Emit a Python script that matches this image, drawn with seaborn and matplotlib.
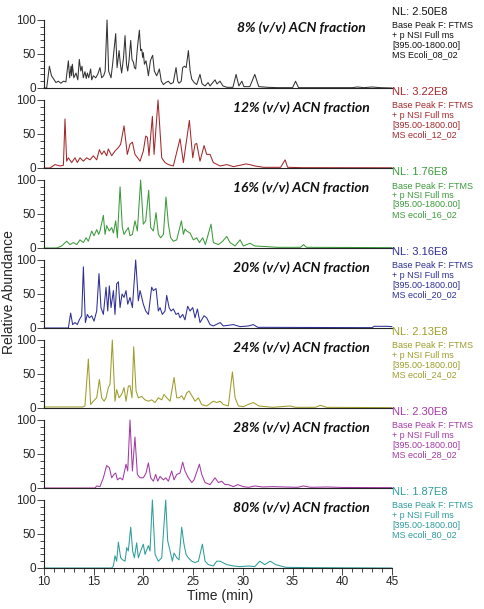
import matplotlib
matplotlib.use("Agg")
import matplotlib.pyplot as plt
import pandas as pd
import seaborn as sns
from matplotlib.ticker import MultipleLocator

# Fractions, normalisation levels and raw file names
fractions = ["8%", "12%", "16%", "20%", "24%", "28%", "80%"]
nl_values = ["2.50E8", "3.22E8", "1.76E8", "3.16E8", "2.13E8", "2.30E8", "1.87E8"]
file_names = ["MS Ecoli_08_02", "MS ecoli_12_02", "MS ecoli_16_02", "MS ecoli_20_02",
              "MS ecoli_24_02", "MS ecoli_28_02", "MS ecoli_80_02"]
colors = ["#333333", "#a3282b", "#3c9a3c", "#2e2e96", "#9d9d2c", "#a43aa4", "#2f9c9c"]

# Chromatogram points (time in min, relative abundance %)
trace_08 = [(10.0, 0), (10.27, 0), (10.54, 32), (10.75, 18), (10.94, 14), (11.2, 8), (11.44, 10),
            (11.7, 7), (11.95, 10), (12.2, 9), (12.45, 40), (12.58, 15), (12.72, 32), (12.78, 18),
            (12.85, 35), (13.0, 15), (13.22, 22), (13.4, 12), (13.55, 42), (13.7, 25), (13.82, 32),
            (13.95, 15), (14.12, 24), (14.25, 14), (14.36, 22), (14.5, 15), (14.69, 28), (14.8, 12),
            (14.96, 18), (15.2, 15), (15.4, 20), (15.63, 30), (15.8, 15), (16.0, 18), (16.15, 25),
            (16.34, 100), (16.5, 25), (16.74, 15), (16.9, 35), (17.21, 80), (17.35, 30), (17.55, 55),
            (17.68, 35), (17.81, 22), (18.0, 45), (18.15, 77), (18.3, 35), (18.42, 25), (18.55, 40),
            (18.72, 70), (18.85, 42), (18.99, 38), (19.1, 30), (19.22, 28), (19.4, 60), (19.59, 85),
            (19.72, 55), (19.83, 57), (19.92, 45), (19.99, 52), (20.1, 35), (20.26, 40), (20.4, 28),
            (20.5, 18), (20.7, 40), (20.83, 45), (20.93, 48), (21.1, 25), (21.33, 18), (21.45, 22),
            (21.6, 28), (21.8, 10), (22.01, 5), (22.25, 8), (22.5, 10), (22.75, 6), (23.0, 8),
            (23.28, 30), (23.45, 10), (23.58, 7), (23.8, 10), (23.95, 30), (24.12, 32), (24.3, 30),
            (24.52, 55), (24.7, 25), (24.86, 13), (25.1, 8), (25.36, 5), (25.69, 20), (25.9, 6),
            (26.2, 3), (26.5, 8), (26.7, 3), (27.2, 12), (27.4, 6), (27.7, 10), (28.0, 3), (28.4, 1),
            (29.0, 1), (29.32, 20), (29.6, 3), (29.9, 10), (30.1, 2), (30.7, 2), (31.2, 20), (31.6, 2),
            (32.5, 1), (33.5, 0.5), (35.0, 0.5), (35.3, 10), (35.6, 0.5), (41.0, 0.5), (41.5, 1.5),
            (42.2, 0.5), (43.0, 1.5), (43.8, 0.5), (45.0, 0)]

trace_12 = [(10.0, 0), (10.6, 0), (11.11, 5), (11.61, 3), (11.95, 4), (12.11, 72), (12.28, 10),
            (12.45, 15), (12.78, 8), (13.12, 15), (13.35, 8), (13.62, 15), (13.96, 10), (14.29, 15),
            (14.63, 12), (14.96, 18), (15.3, 12), (15.57, 27), (15.8, 20), (16.04, 25), (16.3, 18),
            (16.47, 28), (16.81, 18), (17.14, 25), (17.48, 30), (17.71, 35), (18.05, 62), (18.38, 20),
            (18.65, 35), (18.89, 38), (19.15, 20), (19.42, 15), (19.66, 10), (19.99, 25), (20.23, 47),
            (20.4, 45), (20.56, 18), (20.9, 76), (21.07, 20), (21.47, 100), (21.84, 15), (22.17, 8),
            (22.51, 5), (23.01, 3), (23.68, 43), (24.02, 8), (24.62, 70), (24.96, 15), (25.19, 35),
            (25.36, 36), (25.69, 10), (26.1, 33), (26.36, 20), (26.7, 20), (27.03, 8), (27.71, 3),
            (28.38, 5), (29.05, 2), (29.72, 4), (30.3, 6), (30.7, 5), (31.2, 3), (32.1, 1),
            (33.8, 1), (34.25, 12), (34.5, 1), (36.0, 0.5), (45.0, 0.3)]

trace_16 = [(10.0, 0), (11.27, 0), (11.78, 3), (12.28, 10), (12.62, 5), (12.95, 8), (13.29, 5),
            (13.62, 12), (13.96, 8), (14.23, 15), (14.46, 10), (14.8, 25), (15.03, 18), (15.3, 27),
            (15.5, 20), (15.63, 25), (15.97, 48), (16.14, 20), (16.3, 33), (16.57, 25), (16.81, 30),
            (16.98, 22), (17.21, 40), (17.38, 15), (17.65, 90), (17.88, 30), (18.05, 20), (18.25, 25),
            (18.48, 30), (18.65, 18), (18.89, 20), (19.15, 40), (19.39, 25), (19.72, 100), (19.99, 35),
            (20.23, 40), (20.53, 85), (20.73, 30), (21.0, 25), (21.27, 52), (21.5, 20), (21.74, 15),
            (22.01, 20), (22.27, 75), (22.51, 35), (22.74, 15), (23.01, 10), (23.35, 12), (23.82, 40),
            (24.02, 20), (24.18, 28), (24.35, 25), (24.69, 22), (25.02, 12), (25.36, 15), (25.63, 8),
            (25.96, 15), (26.23, 5), (26.8, 35), (27.03, 8), (27.54, 5), (27.97, 10), (28.38, 17),
            (28.71, 8), (29.22, 3), (29.72, 12), (30.05, 3), (30.4, 5), (30.7, 7), (31.2, 3),
            (32.4, 2), (33.5, 1), (35.8, 1), (36.1, 5), (36.4, 1), (45.0, 0.5)]

trace_20 = [(10.0, 0), (12.45, 0), (12.68, 22), (12.88, 5), (13.12, 8), (13.35, 5), (13.55, 12),
            (13.79, 18), (13.96, 90), (14.16, 8), (14.36, 20), (14.56, 15), (14.8, 18), (15.03, 10),
            (15.3, 25), (15.53, 80), (15.73, 30), (15.97, 20), (16.24, 60), (16.41, 25), (16.57, 62),
            (16.74, 30), (16.98, 55), (17.14, 20), (17.31, 65), (17.48, 68), (17.65, 30), (17.85, 50),
            (18.05, 45), (18.25, 55), (18.42, 35), (18.65, 45), (18.89, 30), (19.22, 100), (19.49, 40),
            (19.66, 55), (19.83, 45), (19.99, 35), (20.23, 25), (20.5, 20), (20.83, 60), (21.0, 55),
            (21.27, 58), (21.5, 25), (21.67, 30), (21.9, 20), (22.17, 25), (22.34, 48), (22.58, 30),
            (22.78, 25), (23.01, 28), (23.28, 20), (23.51, 22), (23.68, 15), (23.95, 20), (24.18, 12),
            (24.45, 32), (24.69, 25), (24.96, 30), (25.19, 15), (25.43, 28), (25.69, 8), (26.1, 18),
            (26.36, 15), (26.7, 5), (27.03, 3), (27.71, 8), (28.04, 3), (29.05, 5), (29.72, 2),
            (30.56, 3), (31.05, 5), (31.5, 1), (43.0, 0.5), (43.2, 2.5), (44.5, 2.5), (45.0, 2)]

trace_24 = [(10.0, 1.5), (13.9, 1.5), (14.12, 3), (14.46, 72), (14.69, 5), (14.96, 10), (15.3, 15),
            (15.57, 42), (15.8, 15), (16.04, 10), (16.24, 15), (16.47, 30), (16.64, 35), (16.87, 100),
            (17.14, 10), (17.31, 27), (17.55, 15), (17.81, 20), (18.05, 30), (18.25, 10), (18.48, 32),
            (18.65, 33), (18.85, 15), (19.02, 90), (19.26, 25), (19.49, 15), (19.83, 17), (20.16, 12),
            (20.5, 10), (20.83, 12), (21.17, 8), (21.5, 15), (21.84, 12), (22.07, 20), (22.34, 15),
            (22.68, 10), (23.08, 45), (23.35, 15), (23.58, 15), (23.85, 18), (24.08, 12), (24.35, 22),
            (24.59, 25), (24.79, 20), (25.19, 10), (25.53, 15), (25.86, 5), (26.36, 3), (27.03, 10),
            (27.37, 8), (27.71, 10), (28.04, 5), (28.54, 3), (28.95, 53), (29.22, 15), (29.55, 3),
            (30.05, 2), (30.5, 5), (31.06, 8), (31.6, 3), (33.0, 1), (34.75, 3), (35.3, 1),
            (37.3, 1), (37.8, 4), (38.4, 1), (45.0, 0.5)]

trace_28 = [(10.0, 0), (15.13, 0), (15.3, 3), (15.63, 2), (15.97, 15), (16.3, 33), (16.57, 30),
            (16.81, 15), (17.04, 20), (17.21, 22), (17.38, 12), (17.65, 15), (17.91, 12), (18.25, 35),
            (18.42, 25), (18.65, 100), (18.89, 25), (19.15, 75), (19.39, 20), (19.66, 15), (19.99, 15),
            (20.26, 22), (20.5, 37), (20.73, 15), (21.0, 10), (21.23, 20), (21.44, 10), (21.67, 17),
            (22.01, 12), (22.24, 15), (22.51, 10), (22.84, 25), (23.08, 12), (23.35, 20), (23.68, 22),
            (23.95, 38), (24.18, 25), (24.52, 15), (24.86, 8), (25.09, 12), (25.63, 35), (25.86, 20),
            (26.2, 8), (26.7, 5), (27.2, 15), (27.54, 8), (27.87, 10), (28.21, 5), (28.54, 5),
            (29.05, 2), (29.48, 5), (30.05, 2), (30.56, 1), (31.2, 3), (32.0, 1.5), (33.0, 2),
            (35.5, 1), (36.1, 3), (36.8, 1), (38.5, 1.5), (40.0, 0.8), (45.0, 0.5)]

trace_80 = [(10.0, 0), (16.81, 0), (16.98, 3), (17.14, 18), (17.31, 10), (17.48, 38), (17.71, 15),
            (17.91, 12), (18.15, 10), (18.32, 30), (18.48, 25), (18.72, 60), (18.92, 25), (19.09, 15),
            (19.32, 37), (19.49, 15), (19.72, 25), (19.99, 35), (20.16, 20), (20.5, 33), (20.66, 25),
            (20.9, 100), (21.17, 20), (21.5, 10), (21.84, 15), (22.24, 100), (22.44, 40), (22.68, 25),
            (22.91, 10), (23.08, 22), (23.35, 15), (23.58, 12), (23.85, 60), (24.08, 35), (24.29, 20),
            (24.52, 15), (24.86, 10), (25.19, 8), (25.53, 10), (25.93, 35), (26.2, 10), (26.53, 5),
            (27.03, 3), (27.37, 10), (27.71, 10), (27.97, 8), (28.38, 5), (29.05, 3), (29.72, 2),
            (30.56, 3), (31.2, 2), (31.7, 10), (32.2, 5), (32.75, 10), (33.3, 5), (33.8, 3),
            (34.3, 1), (37.0, 0.5), (45.0, 0)]

traces = [trace_08, trace_12, trace_16, trace_20, trace_24, trace_28, trace_80]

sns.set_style("ticks")
plt.rcParams["font.family"] = ["Liberation Sans", "DejaVu Sans"]

W, H = 485, 609
fig = plt.figure(figsize=(W / 100, H / 100), dpi=100)

left_px, right_px = 44, 392
n = len(traces)
for i in range(n):
    bottom_px = 88 + 80 * i
    ax = fig.add_axes([left_px / W, 1 - bottom_px / H, (right_px - left_px) / W, 68 / H])
    df = pd.DataFrame(traces[i], columns=["time", "abundance"])
    sns.lineplot(data=df, x="time", y="abundance", ax=ax, color=colors[i],
                 linewidth=0.75, estimator=None, sort=False)
    for line in ax.get_lines():
        line.set_clip_on(False)
    ax.set_xlim(10, 45)
    ax.set_ylim(0, 100)
    ax.set_xlabel("")
    ax.set_ylabel("")
    sns.despine(ax=ax)
    for s in ["left", "bottom"]:
        ax.spines[s].set_linewidth(0.8)
        ax.spines[s].set_color("#222222")
    ax.set_yticks([0, 50, 100])
    ax.yaxis.set_minor_locator(MultipleLocator(10))
    ax.tick_params(axis="y", which="major", length=5, width=0.6, labelsize=8.5, pad=1)
    ax.tick_params(axis="y", which="minor", length=3, width=0.6)
    if i < n - 1:
        ax.tick_params(axis="x", which="both", bottom=False, labelbottom=False)
    else:
        ax.xaxis.set_major_locator(MultipleLocator(5))
        ax.xaxis.set_minor_locator(MultipleLocator(1))
        ax.tick_params(axis="x", which="major", length=5, width=0.6, labelsize=8.5, pad=0.5)
        ax.tick_params(axis="x", which="minor", length=3, width=0.6)
    ax.patch.set_alpha(0)

    # fraction label
    ax.text(35.9, 88, fractions[i] + " (v/v) ACN fraction", ha="center", va="center",
            fontsize=10, fontweight="bold", fontstyle="italic",
            family=["Lato", "DejaVu Sans"], color="#111111")

    # right-side annotation
    top_px = bottom_px - 68
    tc = "#111111" if i == 0 else colors[i]
    x_txt = 392.5 / W
    fig.text(x_txt, 1 - (top_px - 8) / H, "NL: " + nl_values[i], fontsize=8,
             color=tc, va="center", ha="left")
    info = ["Base Peak F: FTMS", "+ p NSI Full ms", "[395.00-1800.00]", file_names[i]]
    for k, s in enumerate(info):
        fig.text(x_txt, 1 - (top_px + 6 + 9.5 * k) / H, s, fontsize=6.5,
                 color=tc, va="center", ha="left")

fig.text(220 / W, 1 - 596 / H, "Time (min)", ha="center", va="center", fontsize=10)
fig.text(9 / W, 1 - 292 / H, "Relative Abundance", ha="center", va="center",
         rotation=90, fontsize=10)

fig.savefig("out.png", dpi=100)
